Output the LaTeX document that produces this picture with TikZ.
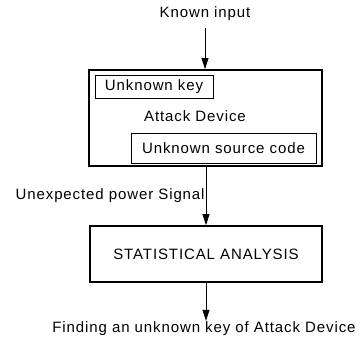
\documentclass[tikz,border=0pt]{standalone}
\usepackage{fontspec}
\setmainfont[LetterSpace=6]{Liberation Sans}
\usetikzlibrary{arrows.meta,positioning}

\tikzset{
  bigbox/.style={draw=black, line width=1.8pt, inner sep=0pt},
  smallbox/.style={draw=black, line width=0.8pt, inner sep=0pt},
  arr/.style={-{Triangle[length=11pt,width=7pt]}, line width=0.8pt},
  lbl/.style={font=\fontsize{15}{18}\selectfont, inner sep=1pt}
}

\begin{document}
\begin{tikzpicture}[x=1pt, y=-1pt]
  \useasboundingbox (0,0) rectangle (363,347);

  % attack device
  \node[lbl](KnownInput) at (205,14){Known input};
  \node[bigbox, minimum width=233pt, minimum height=96pt](AttackDevice) at (205.5,118){};
  \node[smallbox, lbl, minimum width=118pt, minimum height=23pt](UnknownKey) at (154,86.5){Unknown key};
  \node[lbl](AttackLabel) at (195,116){Attack Device};
  \node[smallbox, lbl, minimum width=185pt, minimum height=30pt](UnknownSource) at (223.5,148){Unknown source code};
  \draw[arr] ([yshift=-6pt]KnownInput.south) -- (KnownInput.south |- AttackDevice.north);

  % statistical analysis
  \node[bigbox, lbl, minimum width=232pt, minimum height=56pt](Analysis) at (206,254){STATISTICAL ANALYSIS};
  \node[lbl](Finding) at (204,329){Finding an unknown key of Attack Device};
  \draw[arr] (Analysis.north |- AttackDevice.south) -- node[lbl, left]{Unexpected power Signal} (Analysis.north);
  \draw[arr] (Analysis.south) -- (Analysis.south |- Finding.north);
\end{tikzpicture}
\end{document}
